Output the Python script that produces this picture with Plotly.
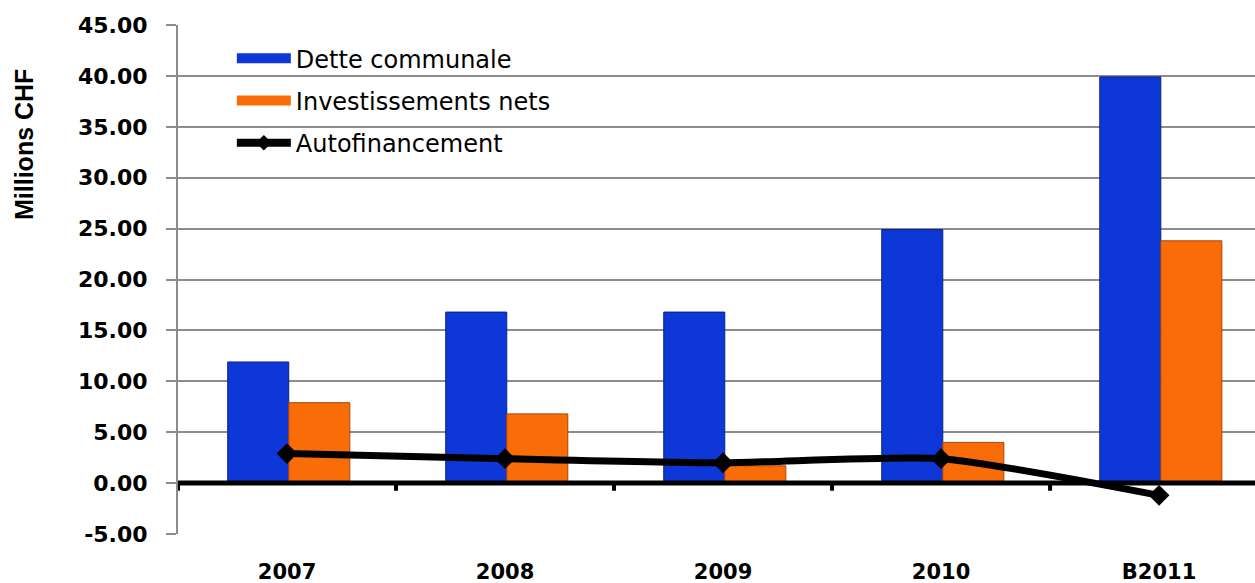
import plotly.graph_objects as go

categories = ["2007", "2008", "2009", "2010", "B2011"]
dette = [11.9, 16.8, 16.8, 24.9, 39.9]
invest = [7.9, 6.8, 1.7, 4.0, 23.8]
autofin = [2.9, 2.4, 2.0, 2.4, -1.2]
y_ticks = [-5, 0, 5, 10, 15, 20, 25, 30, 35, 40, 45]
y_tick_labels = [f"{v:.2f}" for v in y_ticks]

blue = "#0D37D6"
orange = "#FA6C08"

fig = go.Figure()
fig.add_trace(go.Bar(x=categories, y=dette, name="Dette communale",
                     marker=dict(color=blue, line=dict(color="#0A2380", width=1)),
                     offset=-0.272, width=0.28, showlegend=False))
fig.add_trace(go.Bar(x=categories, y=invest, name="Investissements nets",
                     marker=dict(color=orange, line=dict(color="#A8440A", width=1)),
                     offset=0.008, width=0.28, showlegend=False))
fig.add_trace(go.Scatter(x=categories, y=autofin, name="Autofinancement",
                         mode="lines+markers",
                         line=dict(color="black", width=7, shape="spline", smoothing=0.6),
                         marker=dict(symbol="diamond", size=16, color="black"),
                         showlegend=False))

# legend entries (no data drawn)
fig.add_trace(go.Scatter(x=[None], y=[None], mode="lines", name="Dette communale",
                         line=dict(color=blue, width=16), legendgroup="a"))
fig.add_trace(go.Scatter(x=[None], y=[None], mode="lines", name="Investissements nets",
                         line=dict(color=orange, width=16), legendgroup="b"))
fig.add_trace(go.Scatter(x=[None], y=[None], mode="lines+markers", name="Autofinancement",
                         line=dict(color="black", width=8),
                         marker=dict(symbol="diamond", size=12, color="black"),
                         legendgroup="c"))

shapes = [dict(type="line", xref="paper", yref="y", x0=0, x1=1, y0=0, y1=0,
               line=dict(color="black", width=5), layer="above")]
for i in range(len(categories)):
    b = i - 0.5
    shapes.append(dict(type="line", xref="x", yref="y", x0=b, x1=b, y0=0, y1=-0.75,
                       line=dict(color="black", width=4), layer="above"))

fig.update_layout(
    width=1255, height=583,
    margin=dict(l=178, r=0, t=25, b=49, autoexpand=False),
    plot_bgcolor="white", paper_bgcolor="white",
    barmode="overlay",
    font=dict(family="DejaVu Sans", color="black"),
    shapes=shapes,
    showlegend=True,
    legend=dict(x=0.050, y=0.978, xanchor="left", yanchor="top",
                font=dict(family="DejaVu Sans", size=24, color="black"),
                bgcolor="rgba(0,0,0,0)", traceorder="grouped", tracegroupgap=8,
                itemwidth=54),
    annotations=[dict(text="<b>Millions CHF</b>", xref="paper", yref="paper",
                      x=(24 - 178) / 1077, y=(534 - 145) / 509, textangle=-90, showarrow=False,
                      font=dict(family="Liberation Sans", size=25, color="black"),
                      xanchor="center", yanchor="middle")],
)
fig.update_xaxes(range=[-0.5, 4.44], showgrid=False, showline=False,
                 ticks="", ticklabelstandoff=23,
                 tickfont=dict(family="DejaVu Sans", size=21, color="black", weight="bold"))
fig.update_yaxes(range=[-5, 45], tickvals=y_ticks, ticktext=y_tick_labels,
                 showgrid=True, gridcolor="#8C8C8C", gridwidth=2,
                 zeroline=False, showline=True, linecolor="#8C8C8C", linewidth=2,
                 ticks="outside", ticklen=10, tickcolor="#8C8C8C", tickwidth=2,
                 ticklabelstandoff=14,
                 tickfont=dict(family="DejaVu Sans", size=22, color="black", weight="bold"))

fig.write_html("out.html", post_script="document.body.style.margin='0';",
               config={"displayModeBar": False})
